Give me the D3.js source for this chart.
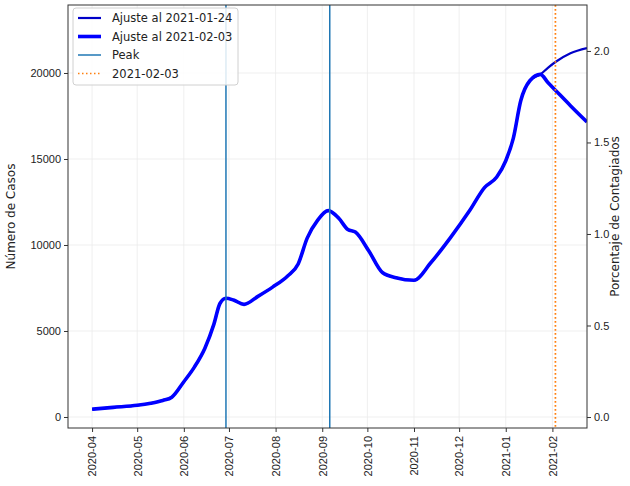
<!DOCTYPE html>
<html>
<head>
<meta charset="utf-8">
<script src="https://cdn.jsdelivr.net/npm/d3@7"></script>
<style>
  body { margin: 0; background: #fff; }
  svg { display: block; font-family: 'DejaVu Sans', sans-serif; }
</style>
</head>
<body>
<div id="chart"></div>
<script>
// fitted curves (cases)
const dates = [
  '2020-04-01', '2020-04-15', '2020-05-01', '2020-05-10', '2020-05-18', '2020-05-24',
  '2020-06-01', '2020-06-08', '2020-06-15', '2020-06-21', '2020-06-25', '2020-06-29',
  '2020-07-04', '2020-07-11', '2020-07-20', '2020-07-30', '2020-08-09', '2020-08-16',
  '2020-08-22', '2020-08-29', '2020-09-05', '2020-09-12', '2020-09-18', '2020-09-23',
  '2020-10-02', '2020-10-11', '2020-10-20', '2020-11-01', '2020-11-12', '2020-11-25',
  '2020-12-08', '2020-12-18', '2020-12-26', '2021-01-01', '2021-01-06', '2021-01-11',
  '2021-01-17', '2021-01-24', '2021-01-29', '2021-02-03', '2021-02-13', '2021-02-24'
];
const fitJan24 = [
  450, 560, 680, 800, 960, 1150,
  2050, 2900, 4000, 5400, 6600, 6900,
  6800, 6550, 7000, 7550, 8200, 8900,
  10400, 11450, 12000, 11550, 10900, 10750,
  9650, 8400, 8100, 7950, 8950, 10400,
  12000, 13350, 13950, 14900, 16200, 18400,
  19550, 19920, 20300, 20640, 21150, 21450
];
const fitFeb03 = [
  450, 560, 680, 800, 960, 1150,
  2050, 2900, 4000, 5400, 6600, 6900,
  6800, 6550, 7000, 7550, 8200, 8900,
  10400, 11450, 12000, 11550, 10900, 10750,
  9650, 8400, 8100, 7950, 8950, 10400,
  12000, 13350, 13950, 14900, 16200, 18400,
  19550, 19920, 19450, 19000, 18100, 17150
];
const peaks = ['2020-06-29', '2020-09-06'];
const cutDate = '2021-02-03';
const yTicks = [0, 5000, 10000, 15000, 20000];
const pctTicks = [0, 0.5, 1.0, 1.5, 2.0];
const legendItems = ['Ajuste al 2021-01-24', 'Ajuste al 2021-02-03', 'Peak', '2021-02-03'];

const W = 630, H = 486;
const M = { top: 5, right: 43, bottom: 58, left: 68 };
const parse = d3.timeParse('%Y-%m-%d');

const svg = d3.select('#chart').append('svg').attr('width', W).attr('height', H);

const x = d3.scaleTime()
  .domain([parse('2020-03-16'), parse('2021-02-24')])
  .range([M.left, W - M.right]);
const y = d3.scaleLinear().domain([-640, 23953]).range([H - M.bottom, M.top]);
const y2 = d3.scaleLinear().domain([-0.060, 2.251]).range([H - M.bottom, M.top]);

// title (cut off at the top in the reference, only descenders show)
svg.append('text')
  .attr('x', 372).attr('y', -3)
  .attr('text-anchor', 'middle')
  .style('font-size', '15px').style('fill', '#1a1a80')
  .text('Ajuste de contagios por fecha');

// grid
const monthTicks = x.ticks(d3.timeMonth.every(1)).filter(d => d >= parse('2020-04-01'));
svg.append('g').selectAll('line').data(monthTicks).join('line')
  .attr('x1', d => x(d)).attr('x2', d => x(d))
  .attr('y1', M.top).attr('y2', H - M.bottom)
  .attr('stroke', '#ebebeb').attr('stroke-width', 0.8);
svg.append('g').selectAll('line').data(yTicks).join('line')
  .attr('x1', M.left).attr('x2', W - M.right)
  .attr('y1', d => y(d)).attr('y2', d => y(d))
  .attr('stroke', '#ebebeb').attr('stroke-width', 0.8);

svg.append('clipPath').attr('id', 'clip').append('rect')
  .attr('x', M.left).attr('y', M.top)
  .attr('width', W - M.left - M.right).attr('height', H - M.top - M.bottom);

const plot = svg.append('g').attr('clip-path', 'url(#clip)');

const rowsA = dates.map((d, i) => ({ d: parse(d), v: fitJan24[i] }));
const rowsB = dates.map((d, i) => ({ d: parse(d), v: fitFeb03[i] }));
const line = d3.line().x(r => x(r.d)).y(r => y(r.v)).curve(d3.curveMonotoneX);

plot.append('path').datum(rowsA)
  .attr('d', line).attr('fill', 'none')
  .attr('stroke', '#0000c8').attr('stroke-width', 2.2);
plot.append('path').datum(rowsB)
  .attr('d', line).attr('fill', 'none')
  .attr('stroke', '#0000ff').attr('stroke-width', 3.6)
  .attr('stroke-linejoin', 'round');

// peak lines
plot.selectAll('.peak').data(peaks).join('line')
  .attr('class', 'peak')
  .attr('x1', d => x(parse(d))).attr('x2', d => x(parse(d)))
  .attr('y1', M.top).attr('y2', H - M.bottom)
  .attr('stroke', '#1f77b4').attr('stroke-width', 1.5);

plot.append('line')
  .attr('x1', x(parse(cutDate))).attr('x2', x(parse(cutDate)))
  .attr('y1', M.top).attr('y2', H - M.bottom)
  .attr('stroke', '#ff7f0e').attr('stroke-width', 1.7)
  .attr('stroke-dasharray', '1.7,2.3');

// axes
const gx = svg.append('g').attr('transform', `translate(0,${H - M.bottom})`)
  .call(d3.axisBottom(x).tickValues(monthTicks).tickFormat(d3.timeFormat('%Y-%m')).tickSizeOuter(0).tickSize(4));
gx.selectAll('text')
  .attr('transform', 'rotate(-90)')
  .attr('x', -8).attr('y', 0).attr('dy', '0.35em')
  .attr('text-anchor', 'end')
  .style('font-size', '11px').style('fill', '#222');

const gy = svg.append('g').attr('transform', `translate(${M.left},0)`)
  .call(d3.axisLeft(y).tickValues(yTicks).tickFormat(d3.format('d')).tickSizeOuter(0).tickSize(4));
gy.selectAll('text').style('font-size', '11px').style('fill', '#222');

const gy2 = svg.append('g').attr('transform', `translate(${W - M.right},0)`)
  .call(d3.axisRight(y2).tickValues(pctTicks).tickFormat(d3.format('.1f')).tickSizeOuter(0).tickSize(4));
gy2.selectAll('text').style('font-size', '11px').style('fill', '#222');

[gx, gy, gy2].forEach(g => {
  g.select('.domain').remove();
  g.selectAll('.tick line').attr('stroke', '#333');
});

// frame
svg.append('rect')
  .attr('x', M.left).attr('y', M.top)
  .attr('width', W - M.left - M.right).attr('height', H - M.top - M.bottom)
  .attr('fill', 'none').attr('stroke', '#333').attr('stroke-width', 1);

// axis labels
svg.append('text')
  .attr('transform', `translate(15,${(M.top + H - M.bottom) / 2}) rotate(-90)`)
  .attr('text-anchor', 'middle')
  .style('font-size', '12px').style('fill', '#222')
  .text('Número de Casos');
svg.append('text')
  .attr('transform', `translate(619,${(M.top + H - M.bottom) / 2}) rotate(-90)`)
  .attr('text-anchor', 'middle')
  .style('font-size', '12px').style('fill', '#222')
  .text('Porcentaje de Contagiados');

// legend
const lg = svg.append('g').attr('transform', 'translate(73,8)');
lg.append('rect')
  .attr('width', 165).attr('height', 77).attr('rx', 3)
  .attr('fill', '#fff').attr('fill-opacity', 0.85)
  .attr('stroke', '#d0d0d0');
const styles = [
  { c: '#0000c8', w: 2.2, dash: null },
  { c: '#0000ff', w: 3.6, dash: null },
  { c: '#1f77b4', w: 1.5, dash: null },
  { c: '#ff7f0e', w: 1.5, dash: '1.5,2.5' }
];
legendItems.forEach((t, i) => {
  const yy = 10 + i * 18.5;
  lg.append('line')
    .attr('x1', 5).attr('x2', 28).attr('y1', yy).attr('y2', yy)
    .attr('stroke', styles[i].c).attr('stroke-width', styles[i].w)
    .attr('stroke-dasharray', styles[i].dash);
  lg.append('text')
    .attr('x', 39).attr('y', yy).attr('dy', '0.35em')
    .style('font-size', '11.5px').style('fill', '#222')
    .text(t);
});
</script>
</body>
</html>
